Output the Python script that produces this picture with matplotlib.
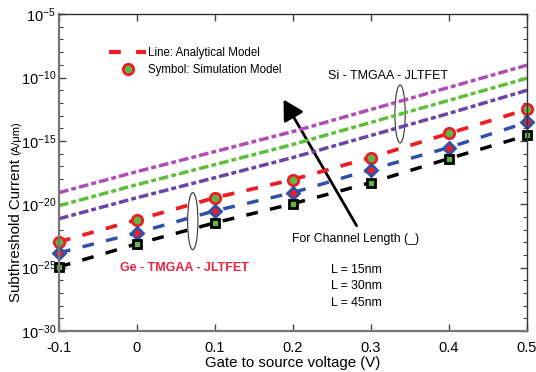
import matplotlib
matplotlib.use("Agg")
import matplotlib.pyplot as plt
from matplotlib.lines import Line2D
from matplotlib.patches import Ellipse, FancyArrowPatch
import numpy as np

plt.rcParams['font.family'] = ['Liberation Sans', 'DejaVu Sans']
plt.rcParams['mathtext.fontset'] = 'custom'
plt.rcParams['mathtext.rm'] = 'Liberation Sans'
plt.rcParams['mathtext.it'] = 'Liberation Sans'
plt.rcParams['lines.scale_dashes'] = False

vgs = [-0.1, 0.0, 0.1, 0.2, 0.3, 0.4, 0.5]

# log10 of subthreshold current (A/um)
si_15 = [-19.08, -17.42, -15.84, -14.26, -12.52, -10.78, -9.03]
si_30 = [-20.11, -18.45, -16.87, -15.28, -13.54, -11.80, -10.06]
si_45 = [-21.14, -19.48, -17.90, -16.31, -14.57, -12.83, -11.01]

ge_15 = [-22.96, -21.22, -19.48, -18.05, -16.31, -14.41, -12.52]
ge_30 = [-23.83, -22.25, -20.51, -19.08, -17.26, -15.52, -13.54]
ge_45 = [-24.94, -23.12, -21.46, -19.95, -18.29, -16.39, -14.57]

xticks = [-0.1, 0, 0.1, 0.2, 0.3, 0.4, 0.5]
xticklabels = ['-0.1', '0', '0.1', '0.2', '0.3', '0.4', '0.5']
yexp = [-30, -25, -20, -15, -10, -5]
lengths = ['L = 15nm', 'L = 30nm', 'L = 45nm']

fig = plt.figure(figsize=(5.36, 3.72), dpi=100)
ax = fig.add_axes([0.110, 0.110, 0.873, 0.852])

p = lambda v: [10.0 ** e for e in v]

lw = 2.5
si_dash = (7, 2.2, 3.5, 2.2)
ax.plot(vgs, p(si_15), color='#b04db4', lw=lw, dashes=si_dash)
ax.plot(vgs, p(si_30), color='#5fbf3a', lw=lw, dashes=si_dash)
ax.plot(vgs, p(si_45), color='#6a44a6', lw=lw, dashes=si_dash)

ge_dash = (8.5, 9)
ax.plot(vgs, p(ge_15), color='#ee1d24', lw=2.7, dashes=ge_dash)
ax.plot(vgs, p(ge_30), color='#2f52a8', lw=2.5, dashes=ge_dash)
ax.plot(vgs, p(ge_45), color='black', lw=2.5, dashes=ge_dash)

ax.plot(vgs, p(ge_15), ls='none', marker='o', ms=7.5, mfc='#5cb848', mec='#ee1d24', mew=2.0, clip_on=False)
ax.plot(vgs, p(ge_30), ls='none', marker='D', ms=6.5, mfc='#ee1d24', mec='#2f52a8', mew=2.0, clip_on=False)
ax.plot(vgs, p(ge_45), ls='none', marker='s', ms=5.5, mfc='#5cb848', mec='black', mew=2.0, clip_on=False)

ax.set_yscale('log')
ax.set_xlim(-0.1, 0.5)
ax.set_ylim(1e-30, 1e-5)
ax.set_xticks(xticks)
ax.set_xticklabels(xticklabels, fontsize=10.5)
ax.set_yticks([10.0 ** e for e in yexp])
ax.set_yticklabels(['$10^{%d}$' % e for e in yexp], fontsize=10.5)
ax.set_yticks([10.0 ** e for e in range(-30, -4) if e % 5 != 0], minor=True)
ax.yaxis.set_minor_formatter(plt.NullFormatter())
ax.tick_params(which='both', direction='in', top=True, right=True, color='#444444')
ax.tick_params(which='major', length=5, width=1)
ax.tick_params(which='minor', length=3, width=0.8)
ax.tick_params(axis='y', which='major', pad=2)
ax.tick_params(axis='x', which='major', pad=7)
for s in ['left', 'bottom']:
    ax.spines[s].set_color('#777777')
    ax.spines[s].set_linewidth(1.6)
for s in ['top', 'right']:
    ax.spines[s].set_color('#333333')
    ax.spines[s].set_linewidth(1.0)

ax.set_xlabel('Gate to source voltage (V)', fontsize=10.8, labelpad=1)

# y label: main text plus smaller unit text
t_main = fig.text(0.030, 1 - 302 / 372, 'Subthreshold Current ', rotation=90, fontsize=10.8,
                  ha='center', va='bottom')
fig.canvas.draw()
bb = t_main.get_window_extent(fig.canvas.get_renderer())
ytop = bb.y1 / fig.bbox.height
fig.text(0.030, ytop, '(A/\u03bcm)', rotation=90, fontsize=8, ha='center', va='bottom')

handles = [Line2D([], [], color='#ee1d24', lw=3, dashes=(8.5, 11)),
           Line2D([], [], ls='none', marker='o', ms=7.5, mfc='#5cb848', mec='#ee1d24', mew=2.0)]
leg = ax.legend(handles, ['Line: Analytical Model', 'Symbol: Simulation Model'],
                loc='upper left', bbox_to_anchor=(0.085, 0.93), frameon=False,
                fontsize=8.3, handlelength=3.2, handletextpad=0.2, labelspacing=0.45)

ax.text(0.575, 0.805, 'Si - TMGAA - JLTFET', transform=ax.transAxes, fontsize=9,
        ha='left', va='center')
ax.text(0.13, 0.2, 'Ge - TMGAA - JLTFET', transform=ax.transAxes, fontsize=9,
        ha='left', va='center', color='#e8233f', fontweight='bold')
ax.text(0.497, 0.292, 'For Channel Length (_)', transform=ax.transAxes, fontsize=8.8,
        ha='left', va='center')
for i, t in enumerate(lengths):
    ax.text(0.581, 0.192 - i * 0.051, t, transform=ax.transAxes, fontsize=8.8,
            ha='left', va='center')

ax.add_patch(Ellipse((0.729, 0.685), 0.022, 0.183, transform=ax.transAxes,
                     fill=False, ec='#333333', lw=0.8))
ax.add_patch(Ellipse((0.286, 0.347), 0.022, 0.18, transform=ax.transAxes,
                     fill=False, ec='#333333', lw=0.8))

ax.add_patch(FancyArrowPatch((0.639, 0.325), (0.477, 0.738), transform=ax.transAxes,
                             arrowstyle='-|>,head_length=8,head_width=4.5', lw=2,
                             color='black', mutation_scale=1.5))

fig.savefig('out.png', dpi=100)
